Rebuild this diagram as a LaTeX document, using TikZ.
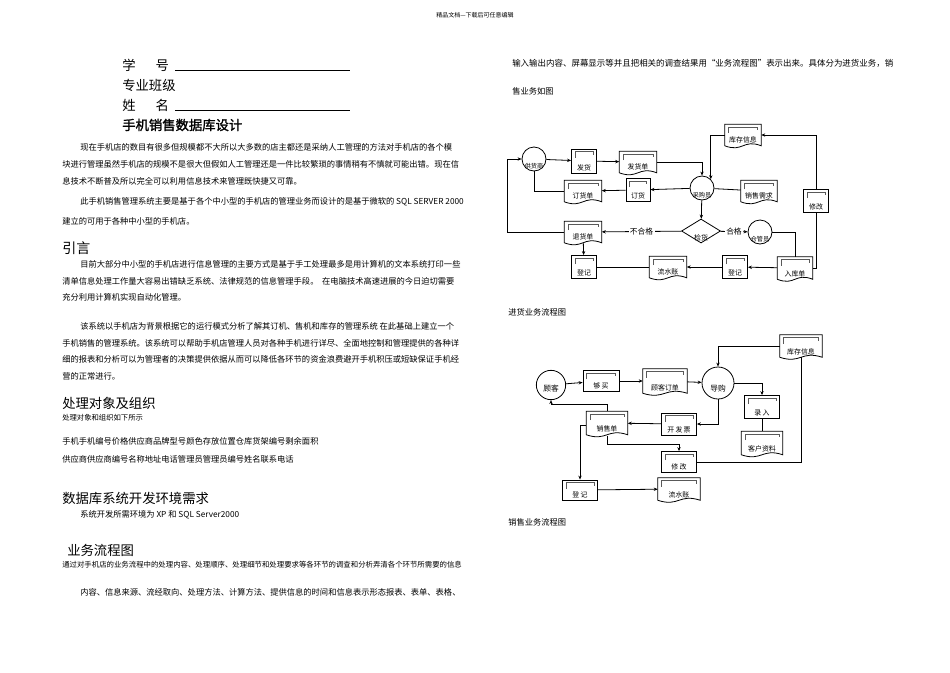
\documentclass[tikz,border=0pt]{standalone}
\usepackage{fontspec}
\setmainfont{Noto Sans CJK SC}
\usetikzlibrary{calc,shapes.geometric,arrows.meta}
\newcommand\bt[4][6.2]{\node[anchor=west,inner sep=0,font=\fontsize{#1}{#1}\selectfont] at (#2,#3) {#4};}
\newcommand\flbox[6]{\node[fbox,minimum width=#4*0.75pt,minimum height=#5*0.75pt] (#1) at (#2,#3) {};
 \draw[thin,gray!70!black] ($(#1.north west)+(4,9)$) -- ($(#1.north west)+(4,3)$) -- ($(#1.north east)+(-4,3)$) -- ($(#1.north east)+(-4,6)$);
 \node[lab,anchor=south] at ($(#1.south)+(0,-1)$) {#6};}
\newcommand\fldoc[6]{\node[inner sep=0,minimum width=#4*0.75pt,minimum height=#5*0.75pt] (#1) at (#2,#3) {};
 \draw[fl] (#1.south west) -- (#1.north west) -- (#1.north east) -- (#1.south east) .. controls ($(#1.south)+(0,-7)$) and ($(#1.south)+(0,7)$) .. (#1.south west);
 \draw[thin,gray!70!black] ($(#1.north west)+(4,9)$) -- ($(#1.north west)+(4,3)$) -- ($(#1.north east)+(-4,3)$) -- ($(#1.north east)+(-4,6)$);
 \node[lab,anchor=south] at ($(#1.south)+(0,-1)$) {#6};}
\begin{document}
\begin{tikzpicture}[x=0.75pt,y=-0.75pt,
 fl/.style={draw,line width=0.6pt},
 fbox/.style={fl,inner sep=0},
 circ/.style={fl,circle,inner sep=0},
 lab/.style={font=\fontsize{5.2}{5.2}\selectfont,inner sep=1pt},
 ar/.style={fl,-{Stealth[length=3pt,width=2.5pt]}},
 hd/.style={anchor=west,inner sep=0}]
\useasboundingbox (0,0) rectangle (950,672);
\node[font=\fontsize{4.5}{4.5}\selectfont,inner sep=0] (hdr) at (475,15) {精品文档---下载后可任意编辑};
% title block
\node[hd,font=\fontsize{10}{10}\selectfont] (xh) at (122,65) {学\hspace{1.5em}号};
\draw[line width=0.6pt] (175,70) -- (350,70);
\node[hd,font=\fontsize{10}{10}\selectfont] (zy) at (122,85) {专业班级};
\node[hd,font=\fontsize{10}{10}\selectfont] (xm) at (122,105) {姓\hspace{1.5em}名};
\draw[line width=0.6pt] (175,110) -- (350,110);
\node[hd,font=\fontsize{10}{10}\selectfont] (tt) at (122,125) {\addfontfeature{FakeBold=1.5}手机销售数据库设计};
\bt{80}{147}{现在手机店的数目有很多但规模都不大所以大多数的店主都还是采纳人工管理的方法对手机店的各个模}
\bt{62}{164}{块进行管理虽然手机店的规模不是很大但假如人工管理还是一件比较繁琐的事情稍有不慎就可能出错。现在信}
\bt{62}{181}{息技术不断普及所以完全可以利用信息技术来管理既快捷又可靠。}
\bt{80}{202}{此手机销售管理系统主要是基于各个中小型的手机店的管理业务而设计的是基于微软的 SQL SERVER 2000}
\bt{62}{221}{建立的可用于各种中小型的手机店。}
\node[hd,font=\fontsize{10.5}{10.5}\selectfont] (yy) at (62,248) {引言};
\bt{80}{264}{目前大部分中小型的手机店进行信息管理的主要方式是基于手工处理最多是用计算机的文本系统打印一些}
\bt{62}{281}{清单信息处理工作量大容易出错缺乏系统、法律规范的信息管理手段。\ \ 在电脑技术高速进展的今日迫切需要}
\bt{62}{297}{充分利用计算机实现自动化管理。}
\bt{80}{326}{该系统以手机店为背景根据它的运行模式分析了解其订机、售机和库存的管理系统 在此基础上建立一个}
\bt{62}{343}{手机销售的管理系统。该系统可以帮助手机店管理人员对各种手机进行详尽、全面地控制和管理提供的各种详}
\bt{62}{359}{细的报表和分析可以为管理者的决策提供依据从而可以降低各环节的资金浪费避开手机积压或短缺保证手机经}
\bt{62}{376}{营的正常进行。}
\node[hd,font=\fontsize{10}{10}\selectfont] (cl) at (62,403) {处理对象及组织};
\bt[5.5]{62}{418}{处理对象和组织如下所示}
\bt{62}{441}{手机手机编号价格供应商品牌型号颜色存放位置仓库货架编号剩余面积}
\bt{62}{459}{供应商供应商编号名称地址电话管理员管理员编号姓名联系电话}
\node[hd,font=\fontsize{10}{10}\selectfont] (sj) at (62,498) {数据库系统开发环境需求};
\bt{80}{515}{系统开发所需环境为 XP 和 SQL Server2000}
\node[hd,font=\fontsize{10}{10}\selectfont] (yw) at (67,550) {业务流程图};
\bt[5.55]{62}{565}{通过对手机店的业务流程中的处理内容、处理顺序、处理细节和处理要求等各环节的调查和分析弄清各个环节所需要的信息}
\bt{80}{592}{内容、信息来源、流经取向、处理方法、计算方法、提供信息的时间和信息表示形态报表、表单、表格、}
\bt[6.35]{512}{63}{输入输出内容、屏幕显示等并且把相关的调查结果用“业务流程图”表示出来。具体分为进货业务，销}
\bt{512}{91}{售业务如图}
\bt{508}{312}{进货业务流程图}
\bt{508}{522}{销售业务流程图}
% ---------- flowchart 1
\node[circ,minimum size=18pt] (gys) at (534,159) {};
\node[lab,font=\fontsize{4.6}{4.6}\selectfont] at (534,166) {供货商};
\flbox{fh}{584}{161}{25}{24}{发货}
\fldoc{fhd}{638}{162}{37}{21}{发货单}
\node[circ,minimum size=18pt] (cgy) at (702,188) {};
\node[lab,font=\fontsize{4.6}{4.6}\selectfont] at (702,195) {采购员};
\fldoc{kc}{743}{135}{36}{21}{库存信息}
\fldoc{dhd}{583}{191}{37}{21}{订货单}
\flbox{dh}{638}{190}{24}{23}{订货}
\fldoc{xq}{759}{191}{36}{21}{销售需求}
\flbox{xg}{816}{201}{25}{23}{修改}
\node[fl,diamond,aspect=1.6,inner sep=0,minimum width=39*0.75pt,minimum height=24*0.75pt] (jh) at (701,231) {};
\node[lab] at (701,238) {检货};
\node[circ,minimum size=18pt] (cgy2) at (760,232) {};
\node[lab,font=\fontsize{4.6}{4.6}\selectfont] at (760,239) {仓管员};
\fldoc{thd}{583}{232}{37}{21}{退货单}
\flbox{dj1}{584}{267}{25}{23}{登记}
\fldoc{lsz}{668}{267}{37}{21}{流水账}
\flbox{dj2}{735}{267}{25}{23}{登记}
\fldoc{rkd}{795}{268}{35}{22}{入库单}
\draw[ar] (gys) -- (fh);
\draw[ar] (fh) -- (fhd);
\draw[ar] (fhd.east) -| (cgy.north);
\draw[ar] (cgy) -- (dh);
\draw[ar] (dh) -- (dhd);
\draw[fl] (dhd.west) -| (gys.south);
\draw[fl] (xq) -- (cgy);
\draw[ar] (kc.west) -| (cgy.north east);
\draw[ar] (cgy) -- (jh);
\draw[ar] (jh) -- node[fill=white,lab,font=\fontsize{5.8}{5.8}\selectfont]{不合格} (thd);
\draw[ar] (jh) -- node[fill=white,lab,font=\fontsize{5.8}{5.8}\selectfont]{合格} (cgy2);
\draw[fl] (cgy2.east) -| (rkd.north);
\coordinate (lft) at (507,232);
\draw[ar] (thd.west) -- (lft) |- (gys.west);
\draw[ar] (thd) -- (dj1);
\draw[fl] (dj1) -- (lsz);
\draw[ar] (dj2) -- (lsz);
\draw[ar] (rkd) -- (dj2);
\draw[fl] (rkd.east) -| (xg.south);
\draw[ar] (xg.north) |- (kc.east);
% ---------- flowchart 2
\node[circ,minimum size=22pt] (gk) at (551,385) {};
\node[lab,font=\fontsize{5.8}{5.8}\selectfont] at (551,389) {顾客};
\flbox{gm}{601}{381}{36}{21}{够\,买}
\fldoc{gkdd}{665}{381}{44}{24}{顾客订单}
\node[circ,minimum size=24pt] (dg) at (718,383) {};
\node[lab,font=\fontsize{5.8}{5.8}\selectfont] at (718,389) {导购};
\fldoc{kc2}{801}{346}{42}{22}{库存信息}
\flbox{lr}{762}{407}{35}{23}{录\,入}
\fldoc{khzl}{762}{443}{41}{23}{客户资料}
\flbox{kfp}{679}{424}{35}{22}{开\,发\,票}
\fldoc{xsd}{607}{423}{41}{23}{销售单}
\flbox{xg2}{679}{462}{35}{21}{修\,改}
\flbox{dj3}{580}{490}{35}{20}{登\,记}
\fldoc{lsz2}{679}{489}{42}{22}{流水账}
\draw[ar] (gk) -- (gm);
\draw[ar] (gm) -- (gkdd);
\draw[ar] (gkdd) -- (dg);
\draw[ar] (kc2.west) -| (dg.north);
\draw[ar] (dg.east) -| (lr.north);
\draw[fl] (lr) -- (khzl);
\draw[ar] (dg.south) |- (kfp.east);
\draw[ar] (kfp) -- (xsd);
\draw[ar] (xsd.north) -- ++(0,-7) -| (gk.south);
\draw[ar] ($(xsd.west)+(0,2)$) -| (dj3.north);
\draw[ar] ($(xsd.south)+(0,1)$) |- ($(xg2.north)+(0,-7)$) -- (xg2.north);
\draw[fl] (xg2.east) -| (kc2.south);
\draw[ar] (dj3) -- (lsz2);
\end{tikzpicture}
\end{document}
